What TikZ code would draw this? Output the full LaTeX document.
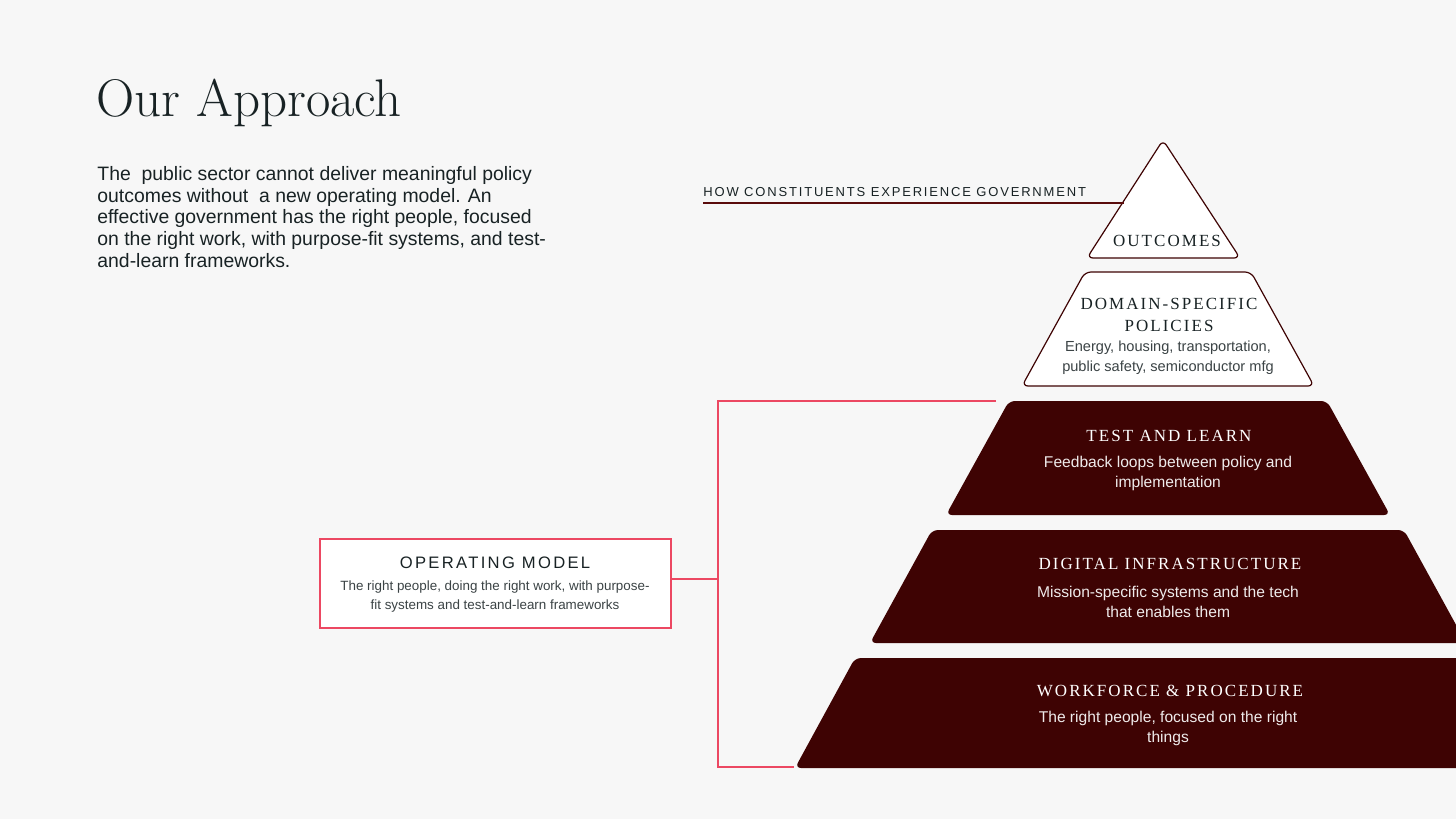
\documentclass[tikz,border=0pt]{standalone}
\usepackage{fontspec}
\usetikzlibrary{calc,positioning}
\setsansfont{Liberation Sans}
\newfontfamily\tiercaps[LetterSpace=12]{Liberation Serif}
\newfontfamily\spacedsans[LetterSpace=14]{Liberation Sans}
\definecolor{maroon}{RGB}{62,3,3}
\definecolor{paper}{RGB}{247,247,247}
\definecolor{rose}{RGB}{236,72,98}
\definecolor{ink}{RGB}{24,34,36}
\definecolor{rulered}{RGB}{90,12,12}

\begin{document}
\begin{tikzpicture}[x=0.5pt,y=-0.5pt,
  tier/.style={fill=maroon,rounded corners=3pt},
  shell/.style={fill=white,draw=maroon,line width=0.6pt,rounded corners=3pt},
  tiername/.style={text=white,inner sep=0pt,font=\tiercaps\fontsize{8.5}{11}\selectfont},
  tiernote/.style={text=white!92!maroon,inner sep=0pt,align=center,font=\sffamily\fontsize{7.8}{10}\selectfont},
  link/.style={draw=rose,line width=0.7pt}]
\useasboundingbox (0,0) rectangle (1456,819);
\clip (0,0) rectangle (1456,819);
\fill[paper] (0,0) rectangle (1456,819);

% heading and intro
\node[anchor=base west,inner sep=0pt,text=ink,font=\fontsize{26.5}{30}\selectfont] (title) at (96,116) {Our Approach};
\node[anchor=north west,inner sep=0pt,align=left,text=ink,font=\sffamily\fontsize{9.7}{10.85}\selectfont] (intro) at (97,166)
 {The~ public sector cannot deliver meaningful policy\\outcomes without~ a new operating model. An\\effective government has the right people, focused\\on the right work, with purpose-fit systems, and test-\\and-learn frameworks.};

% pyramid
\draw[shell] (1163,140) -- (1240,258) -- (1087,258) -- cycle;
\draw[shell] (1085,272) -- (1251,272) -- (1314,386) -- (1022,386) -- cycle;
\fill[tier] (1009,401) -- (1327,401) -- (1390,515) -- (946,515) -- cycle;
\fill[tier] (932,530) -- (1404,530) -- (1466,643) -- (870,643) -- cycle;
\fill[tier] (855,658) -- (1481,658) -- (1541,768) -- (795,768) -- cycle;

\node[tiername,text=ink] (outcomes) at (1167,241) {OUTCOMES};
\node[tiername,text=ink,align=center] (domain) at (1169,315) {DOMAIN-SPECIFIC\\POLICIES};
\node[tiernote,text=ink!85,font=\sffamily\fontsize{7.3}{10}\selectfont] (domainnote) at (1168,358) {Energy, housing, transportation,\\public safety, semiconductor mfg};
\node[tiername] (testlearn) at (1169,436) {TEST AND LEARN};
\node[tiernote] (testnote) at (1168,473) {Feedback loops between policy and\\implementation};
\node[tiername] (digital) at (1170,564) {DIGITAL INFRASTRUCTURE};
\node[tiernote] (digitalnote) at (1168,602) {Mission-specific systems and the tech\\that enables them};
\node[tiername] (workforce) at (1170,691) {WORKFORCE \& PROCEDURE};
\node[tiernote] (workforcenote) at (1168,728) {The right people, focused on the right\\things};

% constituents label
\node[anchor=base west,inner sep=0pt,text=ink,font=\spacedsans\fontsize{6.5}{8}\selectfont] (how) at (703,196.5) {HOW CONSTITUENTS EXPERIENCE GOVERNMENT};
\coordinate (ruleEnd) at (1124,203);
\draw[rulered,line width=1pt] (how.west |- ruleEnd) -- (ruleEnd);

% operating model
\node[draw=rose,fill=white,line width=0.6pt,minimum width=175.5pt,minimum height=44.5pt,inner sep=0pt] (opbox) at (495.5,583.5) {};
\node[inner sep=0pt,text=ink,font=\spacedsans\fontsize{8.3}{10}\selectfont] (optitle) at (495,563) {OPERATING MODEL};
\node[inner sep=0pt,align=center,text=ink!85,font=\sffamily\fontsize{6.7}{9.5}\selectfont] (opnote) at (495,597)
 {The right people, doing the right work, with purpose-\\fit systems and test-and-learn frameworks};

\coordinate (spineTop) at (718,401);
\coordinate (spineMid) at (718,579);
\coordinate (spineBot) at (718,767);
\coordinate (tlFoot) at (996,401);
\coordinate (wfFoot) at (794,767);
\draw[link] (opbox.east |- spineMid) -- (spineMid);
\draw[link] (tlFoot) -- (spineTop) -- (spineBot) -- (wfFoot);
\end{tikzpicture}
\end{document}
